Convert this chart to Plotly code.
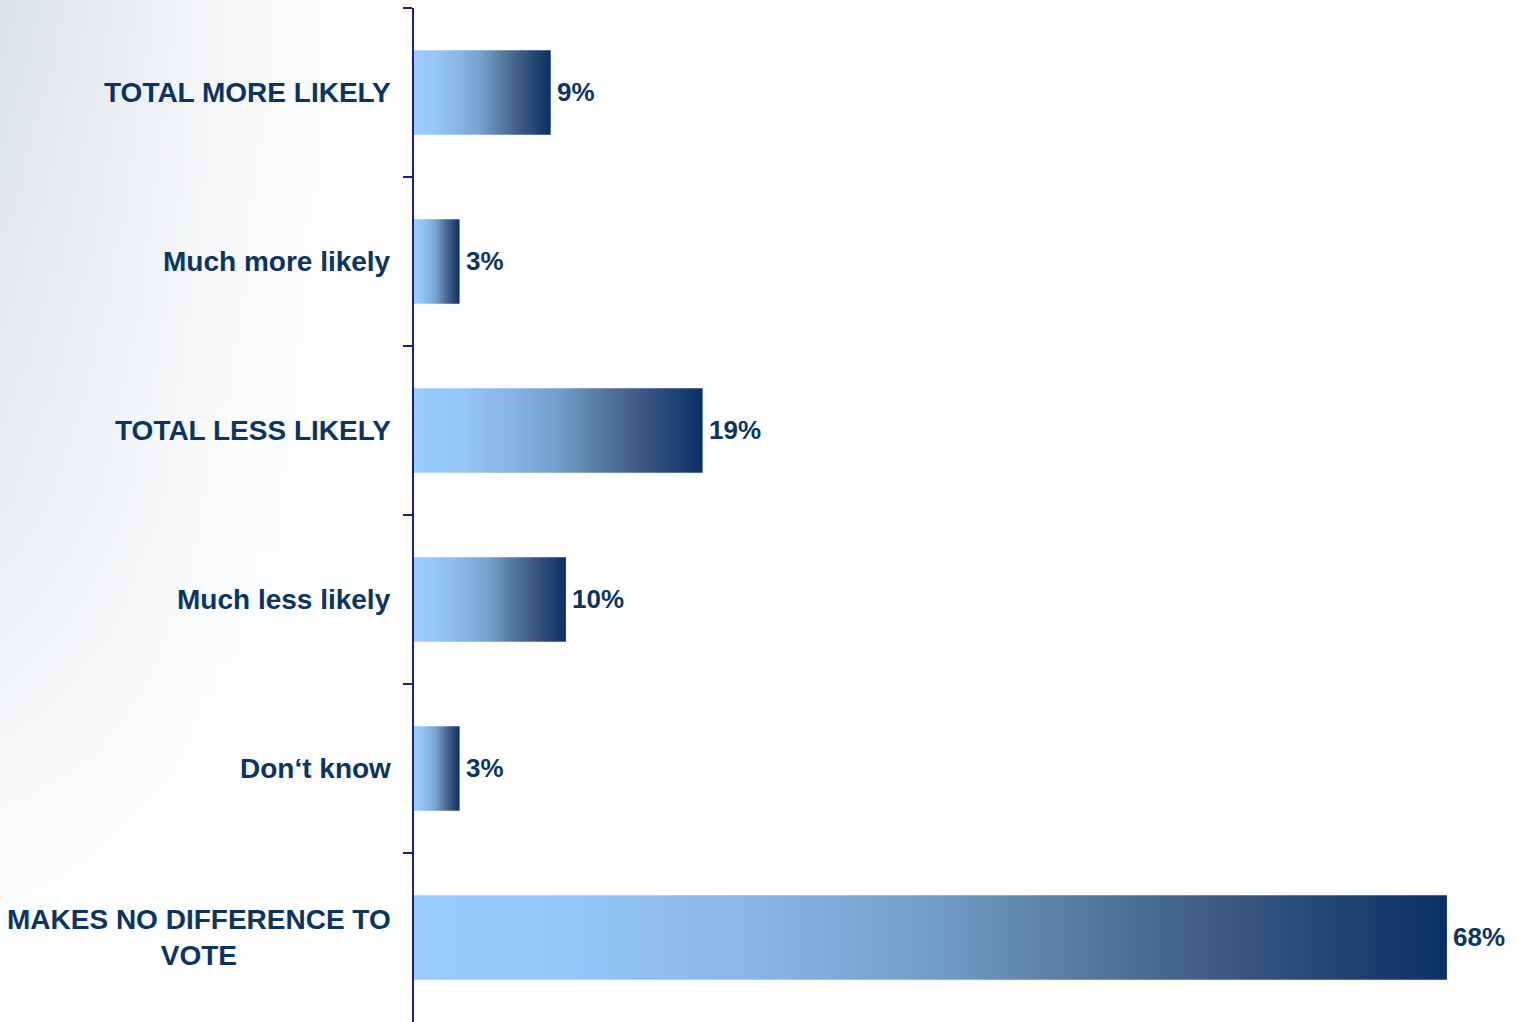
import plotly.graph_objects as go

# Survey answers, top to bottom, and their shares in percent
categories = [
    "TOTAL MORE LIKELY",
    "Much more likely",
    "TOTAL LESS LIKELY",
    "Much less likely",
    "Don\u2018t know",
    "MAKES NO DIFFERENCE TO<br>VOTE",
]
values = [9, 3, 19, 10, 3, 68]
value_labels = ["9%", "3%", "19%", "10%", "3%", "68%"]

W, H = 1517, 1022
AXIS_X = 414
TOP = 8
PX_PER_PCT = 15.19
TEXT = "#0a3563"
AXIS = "#1c1c94"
FONT = "Liberation Sans, Arial, sans-serif"

bar_scale = [
    [0.0, "#99ccff"], [0.15, "#96c7f8"], [0.35, "#86b3e3"], [0.5, "#729ec9"],
    [0.65, "#56799f"], [0.8, "#375682"], [1.0, "#0b3064"],
]

fig = go.Figure()

# Soft grey-blue wash on the left side of the page, fading right and down
fig.add_trace(go.Scatter(
    x=[0, AXIS_X, AXIS_X, 0, 0], y=[0, 0, H, H, 0],
    xaxis="x", yaxis="y", mode="none", fill="toself",
    fillgradient=dict(type="horizontal", start=0, stop=AXIS_X,
                      colorscale=[[0, "#dae2ea"], [0.25, "#e7ecf1"],
                                  [0.5, "#f5f7f9"], [0.8, "#fcfdfd"],
                                  [1, "#ffffff"]]),
    hoverinfo="skip", showlegend=False,
))
fig.add_trace(go.Scatter(
    x=[0, AXIS_X, AXIS_X, 0, 0], y=[0, 0, H, H, 0],
    xaxis="x", yaxis="y", mode="none", fill="toself",
    fillgradient=dict(type="vertical", start=0, stop=H,
                      colorscale=[[0, "rgba(255,255,255,0)"],
                                  [0.5, "rgba(255,255,255,0.45)"],
                                  [0.8, "rgba(255,255,255,0.85)"],
                                  [1, "rgba(255,255,255,1)"]]),
    hoverinfo="skip", showlegend=False,
))

# Horizontal bars with a light-to-dark gradient fill
half = 0.25
for i, v in enumerate(values):
    fig.add_trace(go.Scatter(
        x=[0, v, v, 0, 0],
        y=[i - half, i - half, i + half, i + half, i - half],
        xaxis="x2", yaxis="y2", mode="none", fill="toself",
        fillgradient=dict(type="horizontal", colorscale=bar_scale),
        hoverinfo="skip", showlegend=False,
    ))

annotations = []
for i, (v, lab) in enumerate(zip(values, value_labels)):
    annotations.append(dict(
        x=v, y=i, xref="x2", yref="y2", text=lab, showarrow=False,
        xanchor="left", yanchor="middle", xshift=4, yshift=1,
        font=dict(family=FONT, size=26, color=TEXT, weight="bold"),
    ))
for i, cat in enumerate(categories):
    annotations.append(dict(
        x=AXIS_X / W, y=i, xref="paper", yref="y2", text=cat, showarrow=False,
        xanchor="right", yanchor="middle", align="center", xshift=-21,
        font=dict(family=FONT, size=28, color=TEXT, weight="bold"),
    ))

n = len(categories)
fig.update_layout(
    width=W, height=H,
    margin=dict(l=0, r=0, t=0, b=0),
    paper_bgcolor="white", plot_bgcolor="rgba(0,0,0,0)",
    xaxis=dict(domain=[0, 1], range=[0, W], visible=False, fixedrange=True),
    yaxis=dict(domain=[0, 1], range=[H, 0], visible=False, fixedrange=True),
    xaxis2=dict(domain=[AXIS_X / W, 1], range=[0, (W - AXIS_X) / PX_PER_PCT],
                anchor="y2", showgrid=False, zeroline=False, showline=False,
                showticklabels=False, ticks="", fixedrange=True),
    yaxis2=dict(domain=[0, 1 - TOP / H], range=[n - 0.5, -0.5], anchor="x2",
                showgrid=False, zeroline=False, showline=True,
                linecolor=AXIS, linewidth=2, ticks="outside", ticklen=9,
                tickwidth=2, tickcolor=AXIS,
                tickvals=[k - 0.5 for k in range(n)],
                showticklabels=False, fixedrange=True),
    annotations=annotations,
    showlegend=False,
)

fig.write_html("out.html")
